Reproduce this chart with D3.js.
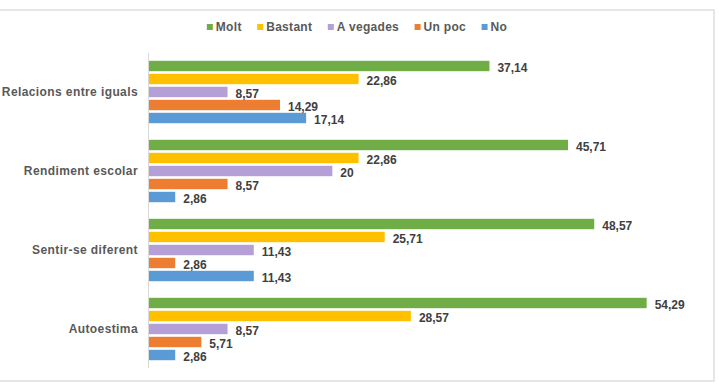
<!DOCTYPE html>
<html>
<head>
<meta charset="utf-8">
<script src="https://cdn.jsdelivr.net/npm/d3@7"></script>
<style>
  body { margin: 0; background: #fff; }
  svg { display: block; font-family: "Liberation Sans", Arial, sans-serif; }
</style>
</head>
<body>
<div id="chart"></div>
<script>
// categories (top to bottom) and series (top to bottom inside each group)
const categories = ["Relacions entre iguals", "Rendiment escolar", "Sentir-se diferent", "Autoestima"];
const series = ["Molt", "Bastant", "A vegades", "Un poc", "No"];
const colors = ["#70AD47", "#FFC000", "#B4A0D6", "#ED7D31", "#5B9BD5"];

// values per series, in category order
const molt = [37.14, 45.71, 48.57, 54.29];
const bastant = [22.86, 22.86, 25.71, 28.57];
const aVegades = [8.57, 20, 11.43, 8.57];
const unPoc = [14.29, 8.57, 2.86, 5.71];
const no = [17.14, 2.86, 11.43, 2.86];

const values = [molt, bastant, aVegades, unPoc, no];

const width = 719, height = 385;

const svg = d3.select("#chart").append("svg")
  .attr("width", width)
  .attr("height", height);

// chart frame (light grey border)
svg.append("path")
  .attr("d", "M0,10H714V381H0")
  .attr("fill", "none")
  .attr("stroke", "#dedede")
  .attr("stroke-width", 1.5);

const x = d3.scaleLinear().domain([0, 60]).range([149, 699]);
const y0 = d3.scaleBand().domain(categories).range([53, 369]);
const y1 = d3.scaleBand().domain(series).range([0, 65]).paddingInner(0.2).paddingOuter(0.1);
const color = d3.scaleOrdinal().domain(series).range(colors);

const rows = [];
categories.forEach((c, ci) => {
  series.forEach((s, si) => {
    rows.push({ cat: c, s: s, v: values[si][ci] });
  });
});

const groupOffset = 6.5;

// bars
svg.append("g").selectAll("rect")
  .data(rows)
  .join("rect")
  .attr("x", x(0))
  .attr("y", d => y0(d.cat) + groupOffset + y1(d.s))
  .attr("width", d => x(d.v) - x(0))
  .attr("height", y1.bandwidth())
  .attr("fill", d => color(d.s));

// value labels
const fmt = v => String(v).replace(".", ",");
svg.append("g").selectAll("text")
  .data(rows)
  .join("text")
  .attr("x", d => x(d.v) + 8)
  .attr("y", d => y0(d.cat) + groupOffset + y1(d.s) + y1.bandwidth() / 2 + 1.5)
  .attr("dy", "0.35em")
  .attr("font-size", 12)
  .attr("font-weight", "bold")
  .attr("fill", "#404040")
  .text(d => fmt(d.v));

// category axis
svg.append("line")
  .attr("x1", x(0) - 0.5).attr("x2", x(0) - 0.5)
  .attr("y1", y0.range()[0]).attr("y2", y0.range()[1] - 1)
  .attr("stroke", "#d9d9d9");

svg.append("g").selectAll("text")
  .data(categories)
  .join("text")
  .attr("x", 138)
  .attr("y", d => y0(d) + groupOffset + 32.5)
  .attr("dy", "0.35em")
  .attr("text-anchor", "end")
  .attr("font-size", 12)
  .attr("font-weight", "bold")
  .attr("letter-spacing", 0.4)
  .attr("fill", "#595959")
  .text(d => d);

// legend
const legend = svg.append("g");
const items = legend.selectAll("g")
  .data(series)
  .join("g");
items.append("rect")
  .attr("width", 6).attr("height", 6)
  .attr("y", -3)
  .attr("fill", d => color(d));
items.append("text")
  .attr("x", 9)
  .attr("dy", "0.35em")
  .attr("font-size", 12)
  .attr("font-weight", "bold")
  .attr("letter-spacing", 0.3)
  .attr("fill", "#595959")
  .text(d => d);

const gap = 15.5;
let cursor = 0;
items.each(function () {
  const w = this.querySelector("text").getComputedTextLength() + 9;
  d3.select(this).attr("transform", `translate(${cursor},27)`);
  cursor += w + gap;
});
const total = cursor - gap;
legend.attr("transform", `translate(${357 - total / 2},0)`);
</script>
</body>
</html>
